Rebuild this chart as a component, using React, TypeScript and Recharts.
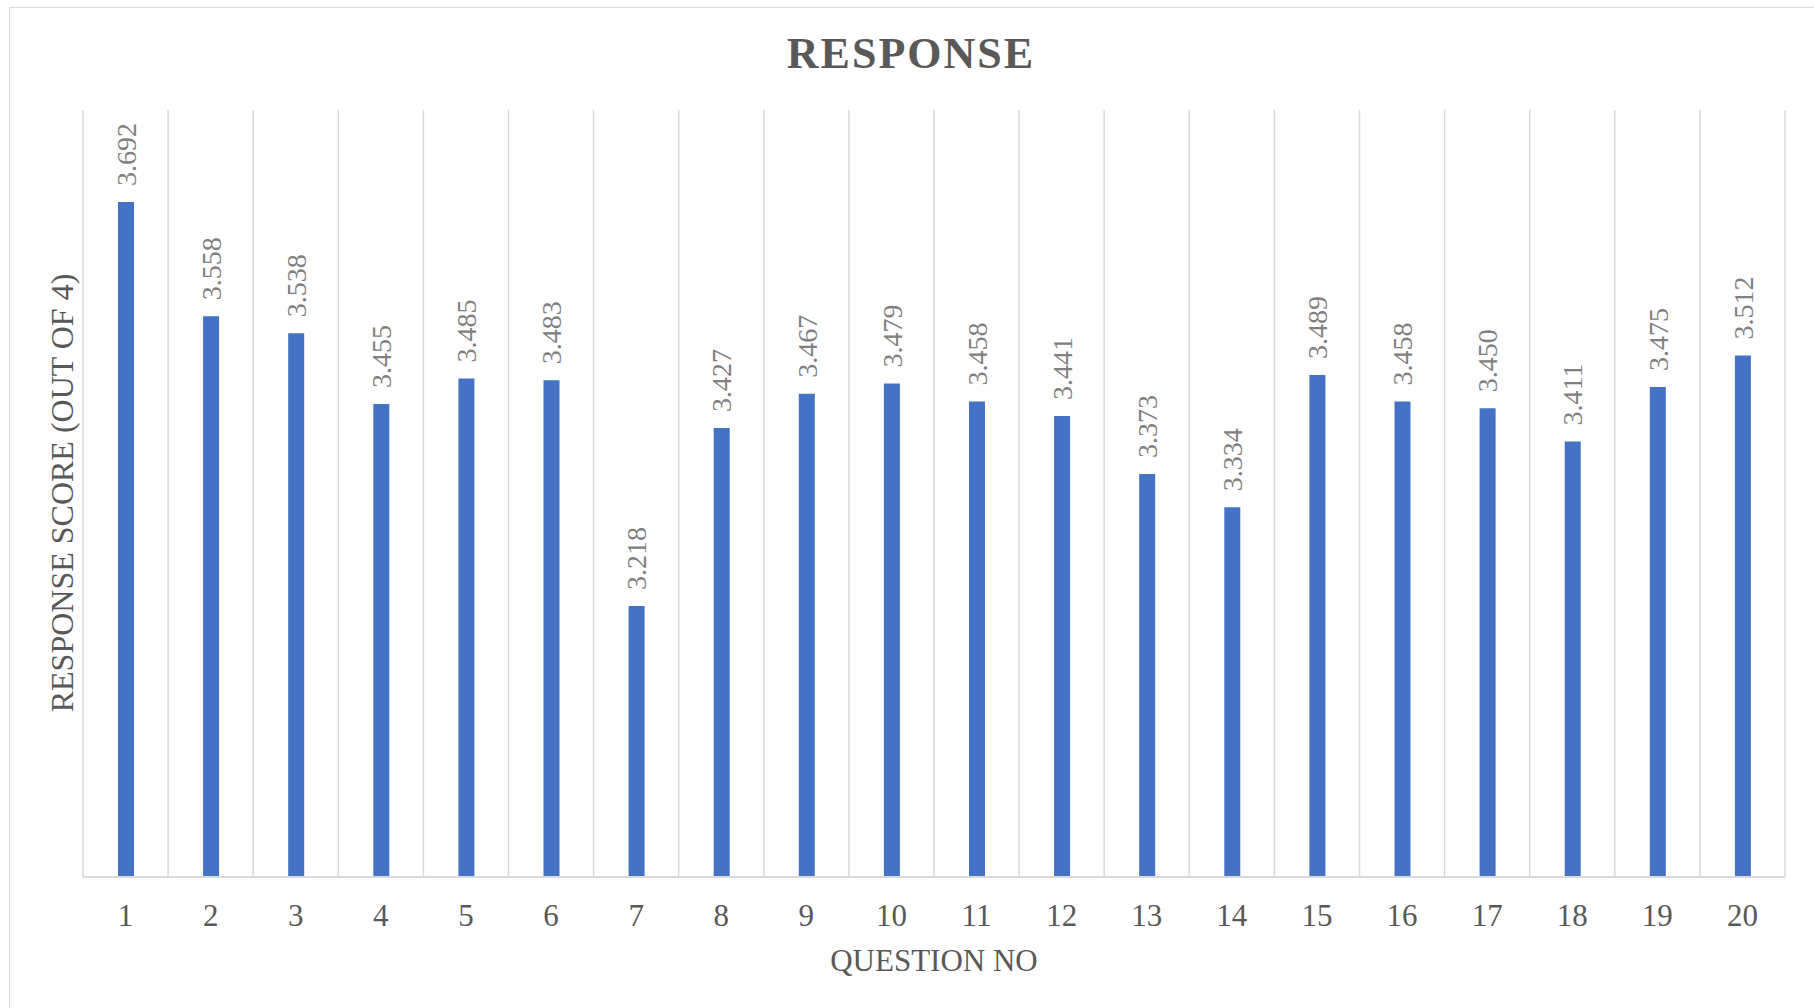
import React from 'react';
import { BarChart, Bar, XAxis, YAxis, CartesianGrid, LabelList, Label } from 'recharts';

const questions = ['1', '2', '3', '4', '5', '6', '7', '8', '9', '10', '11', '12', '13', '14', '15', '16', '17', '18', '19', '20'];
const scores = [3.692, 3.558, 3.538, 3.455, 3.485, 3.483, 3.218, 3.427, 3.467, 3.479, 3.458, 3.441, 3.373, 3.334, 3.489, 3.458, 3.45, 3.411, 3.475, 3.512];

const data = questions.map((q, i) => ({ q, score: scores[i] }));

const FONT = '"Liberation Serif", "Times New Roman", serif';

const ValueLabel = (props: any) => {
  const { x, y, width, value } = props;
  const cx = x + width / 2;
  const ty = y - 16;
  return (
    <text
      x={cx}
      y={ty}
      transform={`rotate(-90, ${cx}, ${ty})`}
      textAnchor="start"
      dy="0.35em"
      fill="#808080"
      style={{ fontFamily: FONT, fontSize: 28 }}
    >
      {Number(value).toFixed(3)}
    </text>
  );
};

export default function App() {
  return (
    <div style={{ position: 'absolute', left: 0, top: 0, width: 1814, height: 1008, background: '#fff', fontFamily: FONT }}>
      <div style={{ position: 'absolute', left: 9, top: 7, right: 0, bottom: 0, borderTop: '1px solid #d9d9d9', borderLeft: '1px solid #d9d9d9' }} />
      <div
        style={{
          position: 'absolute',
          top: 28,
          left: 0,
          width: 1814,
          textAlign: 'center',
          fontSize: 44,
          fontWeight: 'bold',
          letterSpacing: 2,
          color: '#595959',
          paddingLeft: 4,
        }}
      >
        RESPONSE
      </div>
      <BarChart
        width={1814}
        height={1008}
        data={data}
        margin={{ top: 110, right: 29, left: 83, bottom: 71 }}
        style={{ position: 'absolute', left: 0, top: 0, fontFamily: FONT }}
      >
        <CartesianGrid
          horizontal={false}
          stroke="#d9d9d9"
          strokeWidth={1.5}
          verticalCoordinatesGenerator={({ offset }: any) =>
            questions.map((_, i) => offset.left + (i * offset.width) / questions.length).concat(offset.left + offset.width)
          }
        />
        <XAxis
          dataKey="q"
          height={60}
          axisLine={{ stroke: '#d9d9d9', strokeWidth: 2 }}
          tickLine={false}
          tickSize={0}
          tickMargin={27}
          interval={0}
          tick={{ fill: '#595959', fontSize: 31, fontFamily: FONT }}
        >
          <Label value="QUESTION NO" position="insideBottom" offset={-34} fill="#595959" fontSize={31} fontFamily={FONT} />
        </XAxis>
        <YAxis hide domain={[2.9, 3.8]} />
        <Bar dataKey="score" fill="#4472C4" barSize={16} isAnimationActive={false}>
          <LabelList dataKey="score" content={ValueLabel} />
        </Bar>
      </BarChart>
      <div
        style={{
          position: 'absolute',
          left: 62,
          top: 493,
          transform: 'translate(-50%, -50%) rotate(-90deg)',
          whiteSpace: 'nowrap',
          fontSize: 32,
          color: '#595959',
        }}
      >
        RESPONSE SCORE (OUT OF 4)
      </div>
    </div>
  );
}
